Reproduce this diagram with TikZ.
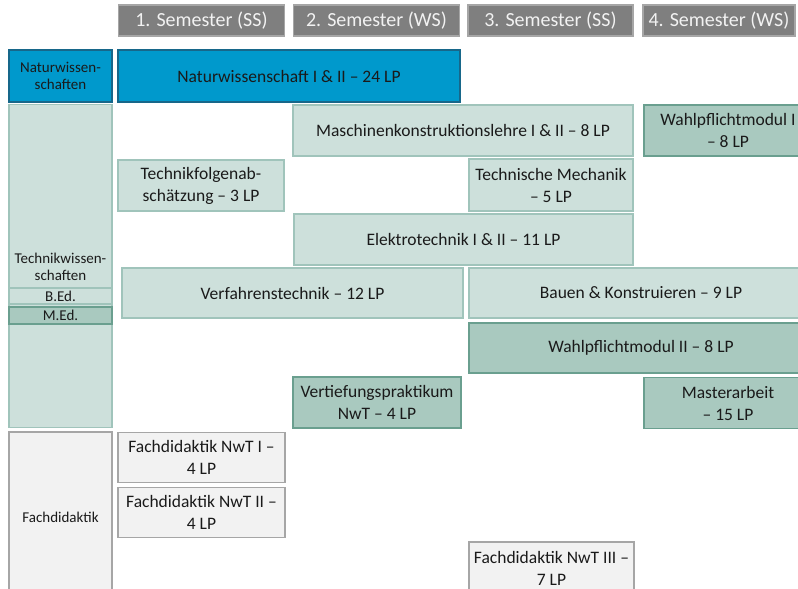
\documentclass[tikz,border=0pt]{standalone}
\usepackage{fontspec}
\setmainfont{Carlito}
\definecolor{hdfill}{HTML}{7F7F7F}
\definecolor{hddraw}{HTML}{A6A6A6}
\definecolor{hdtext}{HTML}{F2F2F2}
\definecolor{natfill}{HTML}{0099CC}
\definecolor{natdraw}{HTML}{17678A}
\definecolor{tlfill}{HTML}{CDE0DB}
\definecolor{tldraw}{HTML}{A0C4BB}
\definecolor{tdfill}{HTML}{A9C9BF}
\definecolor{tddraw}{HTML}{6A9F8F}
\definecolor{fdfill}{HTML}{F2F2F2}
\definecolor{fddraw}{HTML}{A6A6A6}
\definecolor{txt}{HTML}{1A1A1A}
\tikzset{
  box/.style={draw, line width=1.5pt, inner sep=0pt, align=center, text=txt, font=\fontsize{17.5}{22}\selectfont},
  hd/.style={box, fill=hdfill, draw=hddraw, text=hdtext, font=\fontsize{20}{22}\selectfont},
  nat/.style={box, fill=natfill, draw=natdraw},
  tl/.style={box, fill=tlfill, draw=tldraw},
  td/.style={box, fill=tdfill, draw=tddraw},
  fd/.style={box, fill=fdfill, draw=fddraw},
  lbl/.style={inner sep=0pt, align=center, text=txt, font=\fontsize{15}{17}\selectfont},
  small/.style={font=\fontsize{15}{17}\selectfont},
}
\begin{document}
\begin{tikzpicture}[x=1pt,y=-1pt]
\useasboundingbox (0,0) rectangle (798,589);
% headers
\node[hd, minimum width=166, minimum height=31] (h1) at (201.5,20.5) {1. Semester (SS)};
\node[hd, minimum width=166, minimum height=31] (h2) at (376.5,20.5) {2. Semester (WS)};
\node[hd, minimum width=165, minimum height=31] (h3) at (550.5,20.5) {3. Semester (SS)};
\node[hd, minimum width=152, minimum height=31] (h4) at (719,20.5) {4. Semester (WS)};
% left column
\node[nat, small, minimum width=103, minimum height=52] (ln) at (60.5,76) {Naturwissen-\\schaften};
\node[tl, minimum width=103, minimum height=323] (lt) at (60.5,266) {};
\node[lbl] (ltl) at (60.5,267) {Technikwissen-\\schaften};
\node[tl, small, minimum width=103, minimum height=16] (bed) at (60.5,296) {B.Ed.};
\node[td, small, minimum width=103, minimum height=17] (med) at (60.5,315.5) {M.Ed.};
\node[fd, small, minimum width=103, minimum height=170] (lf) at (60.5,517) {Fachdidaktik};
% modules
\node[nat, minimum width=342, minimum height=52] (nw) at (289,76) {Naturwissenschaft I \& II – 24 LP};
\node[tl, minimum width=340, minimum height=51] (mk) at (463,130.5) {Maschinenkonstruktionslehre I \& II – 8 LP};
\node[td, minimum width=168, minimum height=51] (wp1) at (728,130.5) {Wahlpflichtmodul I\\– 8 LP};
\node[tl, minimum width=166, minimum height=51] (tf) at (201,185.5) {Technikfolgenab-\\schätzung – 3 LP};
\node[tl, minimum width=164, minimum height=52] (tm) at (551,185) {Technische Mechanik\\– 5 LP};
\node[tl, minimum width=339, minimum height=51] (et) at (463.5,239.5) {Elektrotechnik I \& II – 11 LP};
\node[tl, minimum width=341, minimum height=50] (vt) at (292.5,293) {Verfahrenstechnik – 12 LP};
\node[tl, minimum width=344, minimum height=50] (bk) at (641,293) {Bauen \& Konstruieren – 9 LP};
\node[td, minimum width=344, minimum height=50] (wp2) at (641,348) {Wahlpflichtmodul II – 8 LP};
\node[td, minimum width=168, minimum height=51] (vp) at (377,402.5) {Vertiefungspraktikum\\NwT – 4 LP};
\node[td, minimum width=168, minimum height=51] (ma) at (728,403) {Masterarbeit\\– 15 LP};
\node[fd, minimum width=167, minimum height=50] (fd1) at (201.5,457.5) {Fachdidaktik NwT I –\\4 LP};
\node[fd, minimum width=167, minimum height=50] (fd2) at (201.5,512.5) {Fachdidaktik NwT II –\\4 LP};
\node[fd, minimum width=165, minimum height=52] (fd3) at (551.5,568) {Fachdidaktik NwT III –\\7 LP};
\end{tikzpicture}
\end{document}
